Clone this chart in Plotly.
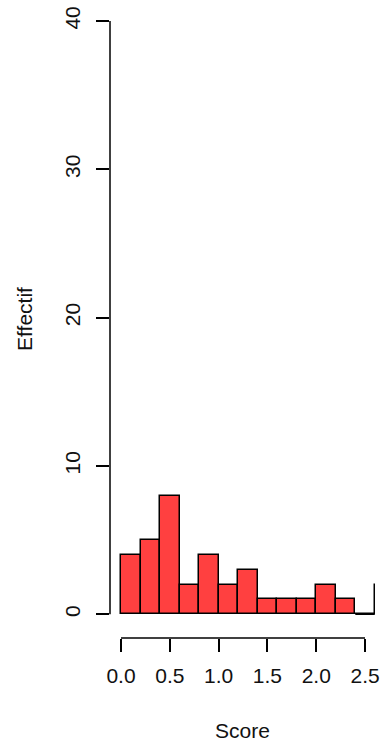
import plotly.graph_objects as go

# histogram bins (left edges) and counts
bin_left = [0.0, 0.2, 0.4, 0.6, 0.8, 1.0, 1.2, 1.4, 1.6, 1.8, 2.0, 2.2, 2.4, 2.6]
bin_width = 0.2
counts = [4, 5, 8, 2, 4, 2, 3, 1, 1, 1, 2, 1, 0, 2]

x_ticks = [0.0, 0.5, 1.0, 1.5, 2.0, 2.5]
x_tick_labels = ["0.0", "0.5", "1.0", "1.5", "2.0", "2.5"]
y_ticks = [0, 10, 20, 30, 40]

FONT = "Liberation Sans, Arial, Helvetica, sans-serif"
TXT = "#111111"
FS = 21

fig = go.Figure()

fig.add_trace(go.Bar(
    x=[b + bin_width / 2 for b in bin_left],
    y=counts,
    width=bin_width,
    marker=dict(color="#FF4040", line=dict(color="black", width=1.5)),
    showlegend=False,
    hoverinfo="skip",
))

# empty bins are drawn as a flat line on the baseline, like R does
for b, c in zip(bin_left, counts):
    if c == 0:
        fig.add_trace(go.Scatter(
            x=[b, b + bin_width], y=[0, 0], mode="lines",
            line=dict(color="black", width=1.5),
            showlegend=False, hoverinfo="skip",
        ))

# R-style axis lines: only span from first to last tick
fig.add_shape(type="line", xref="x", yref="paper",
              x0=x_ticks[0], x1=x_ticks[-1], y0=0, y1=0,
              line=dict(color="black", width=1.5))
fig.add_shape(type="line", xref="paper", yref="y",
              x0=0, x1=0, y0=y_ticks[0], y1=y_ticks[-1],
              line=dict(color="black", width=1.5))

fig.update_xaxes(
    range=[-0.1127, 2.602],
    tickvals=x_ticks, ticktext=x_tick_labels,
    ticks="outside", ticklen=13, tickwidth=1.5, tickcolor="black",
    showline=False, showgrid=False, zeroline=False,
    tickfont=dict(family=FONT, size=FS, color=TXT),
    ticklabelstandoff=6,
    title=dict(text="Score", font=dict(family=FONT, size=FS, color=TXT), standoff=38),
)
fig.update_yaxes(
    range=[-1.6, 41.42],
    tickvals=y_ticks,
    ticks="outside", ticklen=13, tickwidth=1.5, tickcolor="black",
    showline=False, showgrid=False, zeroline=False,
    tickangle=-90,
    tickfont=dict(family=FONT, size=FS, color=TXT),
    ticklabelstandoff=8,
    title=dict(text="Effectif", font=dict(family=FONT, size=FS, color=TXT), standoff=22),
)

fig.update_layout(
    width=381, height=742,
    margin=dict(l=110, r=6, t=0, b=104),
    plot_bgcolor="white", paper_bgcolor="white",
    bargap=0,
)

fig.write_html("out.html", config={"displayModeBar": False},
               post_script="document.body.style.margin='0';")
